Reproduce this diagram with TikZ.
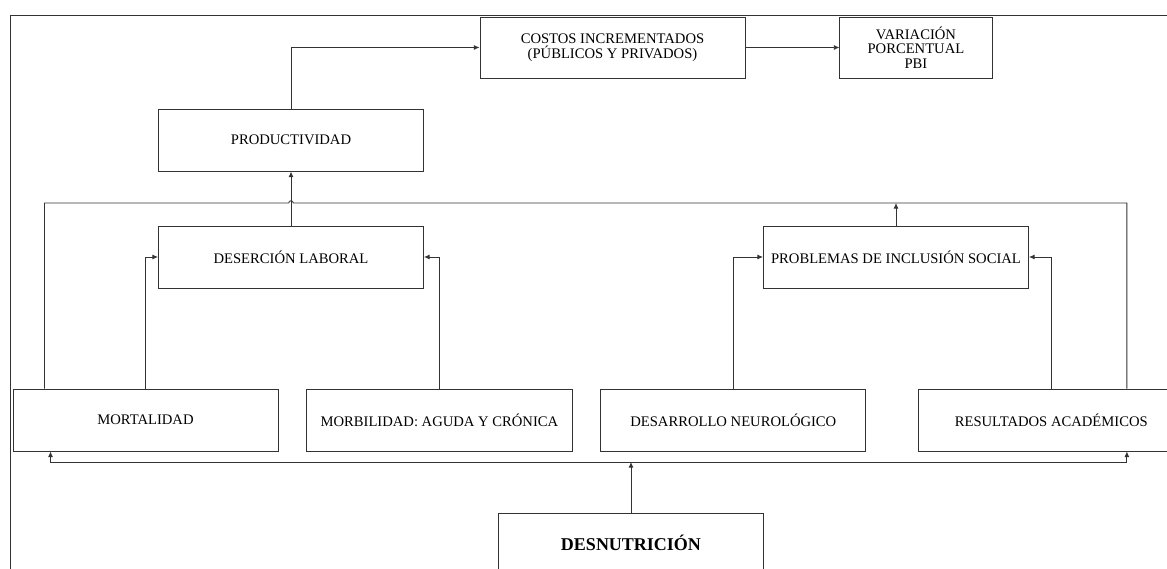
\documentclass[tikz,border=0pt]{standalone}
\usepackage{fontspec}
\setmainfont{Liberation Serif}
\usepackage{tikz}
\usetikzlibrary{positioning, arrows.meta, calc}

\begin{document}
\begin{tikzpicture}[x=0.025cm, y=-0.025cm, node distance=0.7cm,
			box/.style={draw=black!80, line width=0.6pt, rectangle, minimum width=6.625cm, minimum height=1.55cm, align=center, inner sep=1pt, font=\fontsize{10.4}{10.4}\selectfont},
			lowbox/.style={box, minimum height=1.55cm},
			line/.style={draw=black!80, line width=0.6pt},
			arrow/.style={line, -{Latex[length=4pt, width=3.5pt]}}
			]
			\useasboundingbox (0,0) rectangle (1167,569);
			% marco
			\draw[line] (10,580) -- (10,15) -- (1180,15);
			% fila inferior
			\node[lowbox] (mort) at (145.5,420) {MORTALIDAD};
			\node[lowbox, right=0.7cm of mort] (morb) {MORBILIDAD: AGUDA Y CRÓNICA};
			\node[lowbox, right=0.7cm of morb] (desa) {DESARROLLO NEUROLÓGICO};
			\node[lowbox, right=1.3cm of desa] (resu) {RESULTADOS ACADÉMICOS};
			\node[box, minimum height=1.5cm, font=\fontsize{12.8}{14}\selectfont\bfseries] (desn) at (631,543) {DESNUTRICIÓN};
			% fila media
			\node[box] (desl) at (291,257) {DESERCIÓN LABORAL};
			\node[box, right=8.475cm of desl] (prob) {PROBLEMAS DE INCLUSIÓN SOCIAL};
			\node[box, above=1.35cm of desl] (prod) {PRODUCTIVIDAD};
			% fila superior
			\node[box, minimum height=1.525cm] (cost) at (612.5,47.5) {COSTOS INCREMENTADOS\\(PÚBLICOS Y PRIVADOS)};
			\node[box, minimum height=1.525cm, minimum width=3.8cm, right=2.35cm of cost] (vari) {VARIACIÓN\\PORCENTUAL\\PBI};
			\coordinate (fb) at (0,203);
			\coordinate (bl) at (0,462);
			\draw[arrow] (prod.north) |- (cost.west);
			\draw[arrow] (cost.east) -- (vari.west);
			\draw[arrow] (desl.north) -- (prod.south);
			\draw[line] ([xshift=0.8cm]mort.north west) |- ([xshift=-1.6pt]desl.north |- fb) arc[start angle=180, end angle=0, radius=1.6pt] -| ([xshift=1.89cm]resu.north);
			\draw[arrow] (prob.north) -- (prob.north |- fb);
			\draw[arrow] (mort.north) |- (desl.west);
			\draw[arrow] (morb.north) |- (desl.east);
			\draw[arrow] (desa.north) |- (prob.west);
			\draw[arrow] (resu.north) |- (prob.east);
			\draw[arrow] (desn.north) -- (desn.north |- bl);
			\draw[line, {Latex[length=4pt, width=3.5pt]}-{Latex[length=4pt, width=3.5pt]}] ([xshift=0.95cm]mort.south west) |- ([xshift=1.89cm]resu.south |- bl) -- ([xshift=1.89cm]resu.south);
		\end{tikzpicture}
\end{document}
